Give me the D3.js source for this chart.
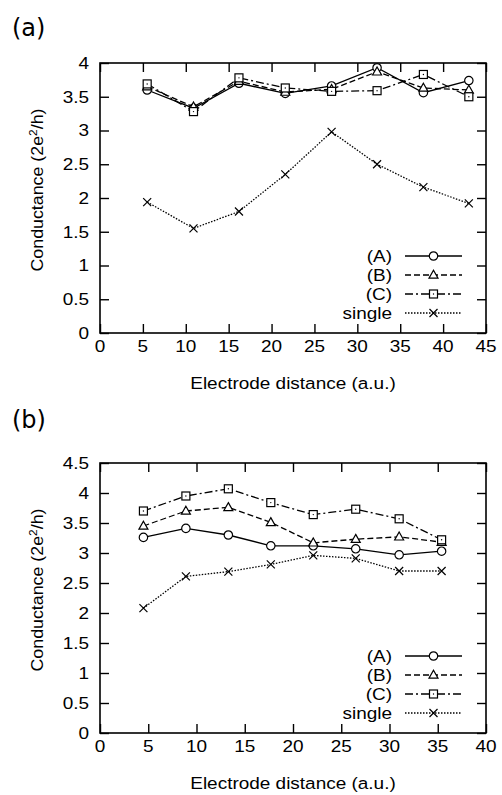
<!DOCTYPE html>
<html>
<head>
<meta charset="utf-8">
<script src="https://cdn.jsdelivr.net/npm/d3@7"></script>
<style>
  body { margin: 0; background: #fff; }
  svg text { font-family: "Liberation Sans", Arial, sans-serif; fill: #000; }
</style>
</head>
<body>
<div id="chart"></div>
<script>
// ---- data ----
// panel (a)
const distA = [5.5, 10.9, 16.2, 21.6, 27.0, 32.3, 37.7, 43.0];
const aA = [3.60, 3.33, 3.70, 3.55, 3.66, 3.93, 3.56, 3.74];
const aB = [3.65, 3.35, 3.73, 3.57, 3.61, 3.87, 3.63, 3.60];
const aC = [3.69, 3.28, 3.78, 3.63, 3.58, 3.59, 3.83, 3.50];
const aSingle = [1.94, 1.55, 1.80, 2.35, 2.98, 2.50, 2.16, 1.92];

// panel (b)
const distB = [4.5, 8.9, 13.3, 17.7, 22.1, 26.5, 31.0, 35.4];
const bA = [3.26, 3.41, 3.30, 3.12, 3.12, 3.07, 2.97, 3.03];
const bB = [3.45, 3.70, 3.76, 3.51, 3.17, 3.23, 3.27, 3.18];
const bC = [3.70, 3.95, 4.07, 3.84, 3.64, 3.73, 3.57, 3.22];
const bSingle = [2.08, 2.61, 2.69, 2.81, 2.96, 2.91, 2.70, 2.70];

const seriesNames = ["(A)", "(B)", "(C)", "single"];
const xTicksA = d3.range(0, 46, 5);
const yTicksA = d3.range(0, 4.01, 0.5);
const xTicksB = d3.range(0, 41, 5);
const yTicksB = d3.range(0, 4.51, 0.5);

// ---- layout ----
const W = 502, H = 795;
const left = 100, right = 486;
const tick = 9;
const fs = 16.5;     // font size
const sx = 1.15;     // the reference text is a bit wide, stretch it

const styles = [
  { dash: null, marker: "circle" },
  { dash: "6,3", marker: "triangle" },
  { dash: "8,3,2,3", marker: "square" },
  { dash: "1.5,1.5", marker: "cross" }
];

const svg = d3.select("#chart").append("svg")
  .attr("width", W).attr("height", H);

// text placed with translate + horizontal stretch
function label(parent, x, y, str, anchor) {
  return parent.append("text")
    .attr("transform", `translate(${x},${y}) scale(${sx},1)`)
    .attr("text-anchor", anchor || "start")
    .style("font-size", fs + "px")
    .text(str);
}

function marker(g, type) {
  if (type === "circle") {
    g.append("circle").attr("r", 4.2).attr("fill", "#fff").attr("stroke", "#000").attr("stroke-width", 1.2);
  } else if (type === "triangle") {
    g.append("path").attr("d", "M0,-4.8L4.5,3.2L-4.5,3.2Z").attr("fill", "#fff").attr("stroke", "#000").attr("stroke-width", 1.2);
  } else if (type === "square") {
    g.append("rect").attr("x", -4).attr("y", -4).attr("width", 8).attr("height", 8)
      .attr("fill", "#fff").attr("stroke", "#000").attr("stroke-width", 1.2);
    g.append("circle").attr("r", 0.7).attr("fill", "#000");
  } else {
    g.append("path").attr("d", "M-4,-4L4,4M-4,4L4,-4").attr("stroke", "#000").attr("stroke-width", 1.2);
  }
}

function panel(cfg) {
  const x = d3.scaleLinear().domain(cfg.xDomain).range([left, right]);
  const y = d3.scaleLinear().domain(cfg.yDomain).range([cfg.bottom, cfg.top]);
  const g = svg.append("g");

  // panel label
  svg.append("text")
    .attr("x", 12).attr("y", cfg.labelY)
    .style("font-family", "'DejaVu Sans', sans-serif")
    .style("font-size", "24px")
    .text(cfg.label);

  // axes with inward ticks, mirrored on top and right
  const bottomAxis = g.append("g").attr("transform", `translate(0,${cfg.bottom})`)
    .call(d3.axisBottom(x).tickValues(cfg.xTicks).tickSizeInner(-tick).tickSizeOuter(0).tickFormat(""));
  const topAxis = g.append("g").attr("transform", `translate(0,${cfg.top})`)
    .call(d3.axisTop(x).tickValues(cfg.xTicks).tickSizeInner(-tick).tickSizeOuter(0).tickFormat(""));
  const leftAxis = g.append("g").attr("transform", `translate(${left},0)`)
    .call(d3.axisLeft(y).tickValues(cfg.yTicks).tickSizeInner(-tick).tickSizeOuter(0).tickFormat(""));
  const rightAxis = g.append("g").attr("transform", `translate(${right},0)`)
    .call(d3.axisRight(y).tickValues(cfg.yTicks).tickSizeInner(-tick).tickSizeOuter(0).tickFormat(""));

  [bottomAxis, topAxis, leftAxis, rightAxis].forEach(a => {
    a.select(".domain").remove();
    a.selectAll(".tick text").remove();
    a.selectAll(".tick line").attr("stroke", "#000").attr("stroke-width", 1.4);
  });
  // tick labels
  cfg.xTicks.forEach(v => label(g, x(v), cfg.bottom + 18.5, String(v), "middle"));
  cfg.yTicks.forEach(v => label(g, left - 11, y(v) + 5.8, String(v), "end"));

  g.append("rect")
    .attr("x", left).attr("y", cfg.top)
    .attr("width", right - left).attr("height", cfg.bottom - cfg.top)
    .attr("fill", "none").attr("stroke", "#000").attr("stroke-width", 1.6);

  // axis titles
  label(svg, (left + right) / 2, cfg.bottom + 56, "Electrode distance (a.u.)", "middle");

  const yt = svg.append("text")
    .attr("transform", `translate(43,${(cfg.top + cfg.bottom) / 2 - 8}) rotate(-90) scale(1.08,1)`)
    .attr("text-anchor", "middle")
    .style("font-size", fs + "px");
  yt.append("tspan").text("Conductance (2e");
  yt.append("tspan").attr("dy", -6).style("font-size", "11px").text("2");
  yt.append("tspan").attr("dy", 6).text("/h)");

  // series
  const line = d3.line().x(d => x(d[0])).y(d => y(d[1]));
  cfg.series.forEach((vals, i) => {
    const pts = cfg.dist.map((d, j) => [d, vals[j]]);
    g.append("path")
      .datum(pts)
      .attr("d", line)
      .attr("fill", "none")
      .attr("stroke", "#000")
      .attr("stroke-width", 1.3)
      .attr("stroke-dasharray", styles[i].dash);
    pts.forEach(p => {
      const m = g.append("g").attr("transform", `translate(${x(p[0])},${y(p[1])})`);
      marker(m, styles[i].marker);
    });
  });

  // legend
  const legend = g.append("g");
  seriesNames.forEach((name, i) => {
    const ry = cfg.bottom - 77 + i * 19;
    label(legend, 392, ry + 5.8, name, "end");
    legend.append("line")
      .attr("x1", 405).attr("x2", 462).attr("y1", ry).attr("y2", ry)
      .attr("stroke", "#000").attr("stroke-width", 1.3)
      .attr("stroke-dasharray", styles[i].dash);
    const m = legend.append("g").attr("transform", `translate(433.5,${ry})`);
    marker(m, styles[i].marker);
  });
}

panel({
  label: "(a)", labelY: 36,
  top: 63, bottom: 333,
  xDomain: [0, 45], yDomain: [0, 4],
  xTicks: xTicksA, yTicks: yTicksA,
  dist: distA, series: [aA, aB, aC, aSingle]
});

panel({
  label: "(b)", labelY: 428,
  top: 463, bottom: 733,
  xDomain: [0, 40], yDomain: [0, 4.5],
  xTicks: xTicksB, yTicks: yTicksB,
  dist: distB, series: [bA, bB, bC, bSingle]
});
</script>
</body>
</html>
